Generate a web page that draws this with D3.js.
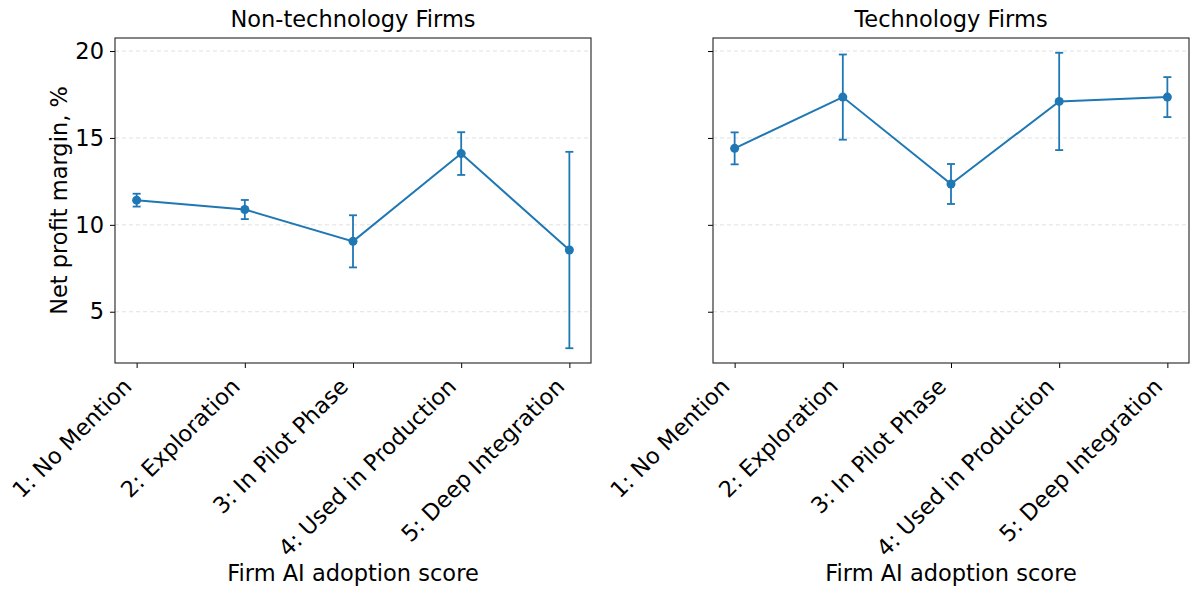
<!DOCTYPE html>
<html>
<head>
<meta charset="utf-8">
<script src="https://cdn.jsdelivr.net/npm/d3@7"></script>
<style>
  body { margin: 0; background: #fff; }
  svg { font-family: "DejaVu Sans", sans-serif; }
  .grid line { stroke: #d9d9d9; stroke-dasharray: 4 3; stroke-width: 0.8; }
</style>
</head>
<body>
<div id="chart"></div>
<script>
  "use strict";

  var categories = ["1: No Mention", "2: Exploration", "3: In Pilot Phase", "4: Used in Production", "5: Deep Integration"];
  var nonTechMean = [11.42, 10.88, 9.05, 14.1, 8.55];
  var nonTechErr = [0.37, 0.55, 1.5, 1.23, 5.65];
  var techMean = [14.4, 17.35, 12.35, 17.1, 17.35];
  var techErr = [0.92, 2.45, 1.15, 2.8, 1.15];
  var yTicks = [5, 10, 15, 20];
  var panelTitles = ["Non-technology Firms", "Technology Firms"];

  var width = 1200, height = 596;
  var color = "#1f77b4";
  var plotTop = 38, plotBottom = 363;
  var panelLefts = [115, 713], panelWidth = 476;
  var tickFont = 22.5, labelFont = 22.5, titleFont = 22.5;

  var svg = d3.select("#chart")
    .append("svg")
    .attr("width", width)
    .attr("height", height);

  // shared y range, matplotlib style 5% margins
  var allMean = nonTechMean.concat(techMean);
  var allErr = nonTechErr.concat(techErr);
  var lo = d3.min(allMean, function(m, i) { return m - allErr[i]; });
  var hi = d3.max(allMean, function(m, i) { return m + allErr[i]; });
  var pad = (hi - lo) * 0.05;
  var y = d3.scaleLinear().domain([lo - pad, hi + pad]).range([plotBottom, plotTop]);

  var panels = [
    {mean: nonTechMean, err: nonTechErr},
    {mean: techMean, err: techErr}
  ];

  panels.forEach(function(p, k) {
    var left = panelLefts[k];
    var x = d3.scaleLinear()
      .domain([-0.2, categories.length - 1 + 0.2])
      .range([left, left + panelWidth]);

    var g = svg.append("g");

    // grid
    g.append("g")
      .attr("class", "grid")
      .selectAll("line")
      .data(yTicks)
      .enter()
      .append("line")
      .attr("x1", left)
      .attr("x2", left + panelWidth)
      .attr("y1", function(d) { return y(d); })
      .attr("y2", function(d) { return y(d); });

    // y axis
    var yAxis = d3.axisLeft(y).tickValues(yTicks).tickSize(5).tickPadding(6);
    if (k === 1) yAxis.tickFormat("");
    var ya = g.append("g")
      .attr("transform", "translate(" + left + ",0)")
      .call(yAxis);
    ya.select(".domain").remove();
    ya.selectAll("text").attr("font-size", tickFont).attr("fill", "#000")
      .attr("font-family", "DejaVu Sans");
    ya.selectAll("line").attr("stroke", "#000").attr("stroke-width", 1);

    // x axis
    var xAxis = d3.axisBottom(x)
      .tickValues(d3.range(categories.length))
      .tickFormat(function(d) { return categories[d]; })
      .tickSize(5);
    var xa = g.append("g")
      .attr("transform", "translate(0," + plotBottom + ")")
      .call(xAxis);
    xa.select(".domain").remove();
    xa.selectAll("line").attr("stroke", "#000").attr("stroke-width", 1);
    xa.selectAll("text")
      .attr("font-size", tickFont)
      .attr("font-family", "DejaVu Sans")
      .attr("fill", "#000")
      .attr("text-anchor", "end")
      .attr("y", 0)
      .attr("dy", 0)
      .attr("transform", "translate(-4,25) rotate(-45)");

    // frame
    g.append("rect")
      .attr("x", left)
      .attr("y", plotTop)
      .attr("width", panelWidth)
      .attr("height", plotBottom - plotTop)
      .attr("fill", "none")
      .attr("stroke", "#222")
      .attr("stroke-width", 1.1);

    // error bars
    var bars = g.append("g").selectAll("g")
      .data(p.mean)
      .enter()
      .append("g")
      .attr("stroke", color)
      .attr("stroke-width", 1.8);
    bars.append("line")
      .attr("x1", function(d, i) { return x(i); })
      .attr("x2", function(d, i) { return x(i); })
      .attr("y1", function(d, i) { return y(d - p.err[i]); })
      .attr("y2", function(d, i) { return y(d + p.err[i]); });
    [-1, 1].forEach(function(s) {
      bars.append("line")
        .attr("x1", function(d, i) { return x(i) - 4; })
        .attr("x2", function(d, i) { return x(i) + 4; })
        .attr("y1", function(d, i) { return y(d + s * p.err[i]); })
        .attr("y2", function(d, i) { return y(d + s * p.err[i]); });
    });

    // line
    var line = d3.line()
      .x(function(d, i) { return x(i); })
      .y(function(d) { return y(d); });
    g.append("path")
      .datum(p.mean)
      .attr("d", line)
      .attr("fill", "none")
      .attr("stroke", color)
      .attr("stroke-width", 2);

    // markers
    g.append("g").selectAll("circle")
      .data(p.mean)
      .enter()
      .append("circle")
      .attr("cx", function(d, i) { return x(i); })
      .attr("cy", function(d) { return y(d); })
      .attr("r", 4.5)
      .attr("fill", color);

    // title
    g.append("text")
      .attr("x", left + panelWidth / 2)
      .attr("y", 27)
      .attr("text-anchor", "middle")
      .attr("font-size", titleFont)
      .text(panelTitles[k]);

    // x label
    g.append("text")
      .attr("x", left + panelWidth / 2)
      .attr("y", 581)
      .attr("text-anchor", "middle")
      .attr("font-size", labelFont)
      .text("Firm AI adoption score");
  });

  // y label
  svg.append("text")
    .attr("transform", "translate(67," + ((plotTop + plotBottom) / 2) + ") rotate(-90)")
    .attr("text-anchor", "middle")
    .attr("font-size", labelFont)
    .text("Net profit margin, %");
</script>
</body>
</html>
